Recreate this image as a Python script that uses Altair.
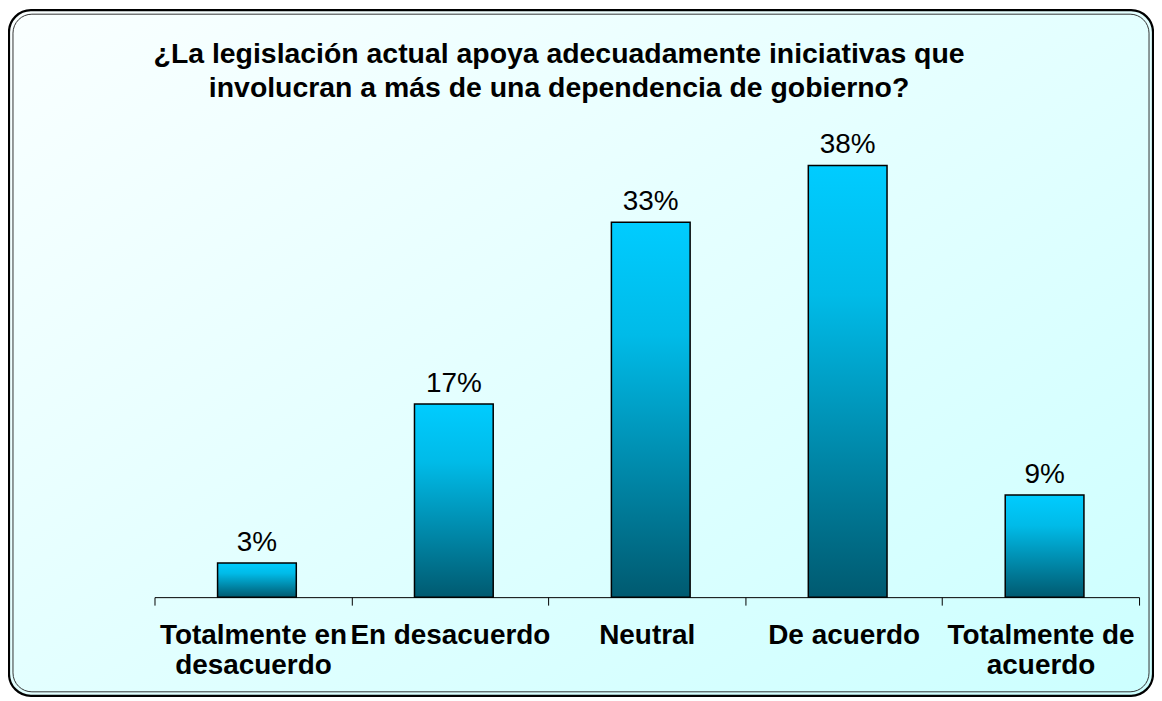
import altair as alt
import pandas as pd

# ---- data ----
categories = ["Totalmente en\ndesacuerdo", "En desacuerdo", "Neutral", "De acuerdo", "Totalmente de\nacuerdo"]
values = [3, 17, 33, 38, 9]
value_labels = ["3%", "17%", "33%", "38%", "9%"]
title_lines = ["¿La legislación actual apoya adecuadamente iniciativas que",
               "involucran a más de una dependencia de gobierno?"]

FONT = "Liberation Sans"
W, H = 988, 456
BAND = W / len(categories)

df = pd.DataFrame({"cat": categories, "val": values, "lab": value_labels})

bg_fill = alt.Gradient(
    gradient="linear", x1=0, y1=0, x2=1, y2=1,
    stops=[alt.GradientStop(offset=0, color="#FAFFFF"),
           alt.GradientStop(offset=1, color="#CCFFFF")],
)
bar_fill = alt.Gradient(
    gradient="linear", x1=0, y1=0, x2=0, y2=1,
    stops=[alt.GradientStop(offset=0, color="#00CCFF"),
           alt.GradientStop(offset=0.3, color="#00BBE8"),
           alt.GradientStop(offset=1, color="#005A70")],
)

one = alt.Data(values=[{}])

background = alt.Chart(one).mark_rect(
    fill=bg_fill, stroke="black", strokeWidth=2.2, cornerRadius=22
).encode(x=alt.value(-146), x2=alt.value(W + 14), y=alt.value(-133), y2=alt.value(H + 99))

inner = alt.Chart(one).mark_rect(
    fill=None, fillOpacity=0, stroke="#333333", strokeWidth=1, cornerRadius=19
).encode(x=alt.value(-142), x2=alt.value(W + 10), y=alt.value(-129), y2=alt.value(H + 95))

xenc = alt.X(
    "cat:N", sort=categories,
    scale=alt.Scale(paddingInner=0, paddingOuter=0),
    axis=alt.Axis(
        title=None, labelExpr="datum.value ? split(datum.value, '\\n') : ''",
        labelFont=FONT, labelFontSize=28, labelFontWeight="bold", labelColor="black",
        labelLineHeight=30, labelPadding=17, labelAngle=0, labelLimit=0, labelOverlap=False,
        domainColor="black", domainWidth=1, tickColor="black", tickSize=8, tickWidth=1,
        tickBand="extent", grid=False, zindex=2,
    ),
)
yenc = alt.Y("val:Q", scale=alt.Scale(domain=[0, 40]), axis=None)

bars = alt.Chart(df).mark_bar(
    size=79, fill=bar_fill, stroke="black", strokeWidth=1.5
).encode(x=xenc, y=yenc, xOffset=alt.value(BAND / 2 + 4))

texts = alt.Chart(df).mark_text(
    font=FONT, fontSize=28, color="black", baseline="alphabetic", dy=-12, dx=4
).encode(x=xenc, y=yenc, text="lab:N")

title_df = pd.DataFrame({"t": ["\n".join(title_lines)]})
title = alt.Chart(title_df).mark_text(
    font=FONT, fontSize=28.5, fontWeight="bold", color="black",
    align="center", baseline="alphabetic", lineBreak="\n", lineHeight=34
).encode(x=alt.value(406), y=alt.value(-80), text="t:N")

chart = alt.layer(background, inner, bars, texts, title).properties(
    width=W, height=H,
    autosize=alt.AutoSizeParams(type="none"),
    padding={"left": 147, "top": 134, "right": 15, "bottom": 100},
).configure_view(stroke=None)

chart.save("out.html", embed_options={"renderer": "svg", "actions": False})
